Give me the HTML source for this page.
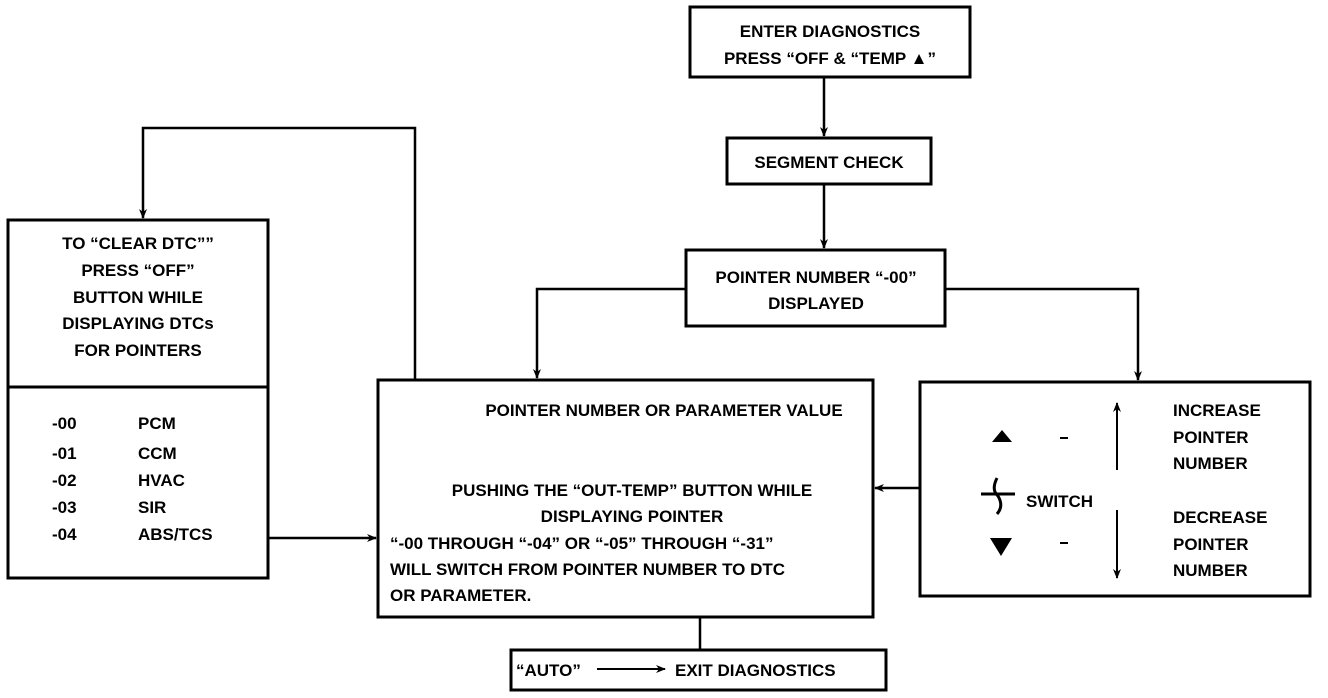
<!DOCTYPE html>
<html><head><meta charset="utf-8"><style>
html,body{margin:0;padding:0;background:#fff;}
svg{display:block}
text{font-family:"Liberation Sans",sans-serif;font-weight:bold;font-size:17px;fill:#000}
</style></head><body>
<svg width="1328" height="698" viewBox="0 0 1328 698" xmlns="http://www.w3.org/2000/svg">
<defs>
<marker id="ah" markerWidth="10" markerHeight="10" refX="9" refY="5" orient="auto" markerUnits="userSpaceOnUse">
<path d="M0,1 L10,5 L0,9 L3,5 Z" fill="#000"/></marker>
</defs>
<g fill="none" stroke="#000" stroke-width="3">
<rect x="690" y="7" width="280" height="70"/>
<rect x="727" y="138" width="204" height="46"/>
<rect x="686" y="250" width="259" height="76"/>
<rect x="8" y="220" width="260" height="358"/>
<line x1="8" y1="387" x2="268" y2="387"/>
<rect x="378" y="380" width="495" height="237"/>
<rect x="920" y="382" width="390" height="214"/>
<rect x="511" y="650" width="375" height="40"/>
</g>
<g fill="none" stroke="#000" stroke-width="2.5">
<line x1="824" y1="77" x2="824" y2="136" marker-end="url(#ah)"/>
<line x1="824" y1="184" x2="824" y2="248" marker-end="url(#ah)"/>
<polyline points="686,289 537,289 537,378" marker-end="url(#ah)"/>
<polyline points="945,289 1138,289 1138,380" marker-end="url(#ah)"/>
<polyline points="415,380 415,128 143,128 143,218" marker-end="url(#ah)"/>
<line x1="268" y1="538" x2="376" y2="538" marker-end="url(#ah)"/>
<line x1="920" y1="488" x2="875" y2="488" marker-end="url(#ah)"/>
<line x1="700" y1="617" x2="700" y2="650"/>
<line x1="1117" y1="470" x2="1117" y2="403" marker-end="url(#ah)" stroke-width="2"/>
<line x1="1117" y1="510" x2="1117" y2="578" marker-end="url(#ah)" stroke-width="2"/>
<line x1="597" y1="669" x2="665" y2="669" marker-end="url(#ah)" stroke-width="2"/>
</g>
<g text-anchor="middle">
<text x="830" y="37">ENTER DIAGNOSTICS</text>
<text x="830" y="64">PRESS “OFF &amp; “TEMP ▲”</text>
<text x="829" y="168">SEGMENT CHECK</text>
<text x="816" y="283">POINTER NUMBER “-00”</text>
<text x="816" y="309">DISPLAYED</text>
<text x="138" y="249">TO “CLEAR DTC””</text>
<text x="138" y="276">PRESS “OFF”</text>
<text x="138" y="303">BUTTON WHILE</text>
<text x="138" y="329">DISPLAYING DTCs</text>
<text x="138" y="356">FOR POINTERS</text>
<text x="664" y="416">POINTER NUMBER OR PARAMETER VALUE</text>
<text x="632" y="496">PUSHING THE “OUT-TEMP” BUTTON WHILE</text>
<text x="632" y="522">DISPLAYING POINTER</text>
</g>
<text x="390" y="549">“-00 THROUGH “-04” OR “-05” THROUGH “-31”</text>
<text x="390" y="575">WILL SWITCH FROM POINTER NUMBER TO DTC</text>
<text x="390" y="601">OR PARAMETER.</text>
<g>
<text x="52" y="429">-00</text><text x="138" y="429">PCM</text>
<text x="52" y="459">-01</text><text x="138" y="459">CCM</text>
<text x="52" y="486">-02</text><text x="138" y="486">HVAC</text>
<text x="52" y="513">-03</text><text x="138" y="513">SIR</text>
<text x="52" y="540">-04</text><text x="138" y="540">ABS/TCS</text>
</g>
<path d="M992,442 L1002,430 L1012,442 Z" fill="#000"/>
<path d="M990,538 L1012,538 L1001,556 Z" fill="#000"/>
<line x1="1060" y1="438" x2="1068" y2="438" stroke="#000" stroke-width="2"/>
<line x1="1060" y1="543" x2="1068" y2="543" stroke="#000" stroke-width="2"/>
<g stroke="#000" stroke-width="3" fill="none">
<line x1="981" y1="494" x2="1015" y2="494"/>
<path d="M997,478 Q991,490 998,496 Q1004,506 997,514"/>
</g>
<text x="1026" y="507">SWITCH</text>
<text x="1173" y="416">INCREASE</text>
<text x="1173" y="443">POINTER</text>
<text x="1173" y="469">NUMBER</text>
<text x="1173" y="523">DECREASE</text>
<text x="1173" y="550">POINTER</text>
<text x="1173" y="576">NUMBER</text>
<text x="516" y="676">“AUTO”</text>
<text x="675" y="676">EXIT DIAGNOSTICS</text>
</svg>
</body></html>
